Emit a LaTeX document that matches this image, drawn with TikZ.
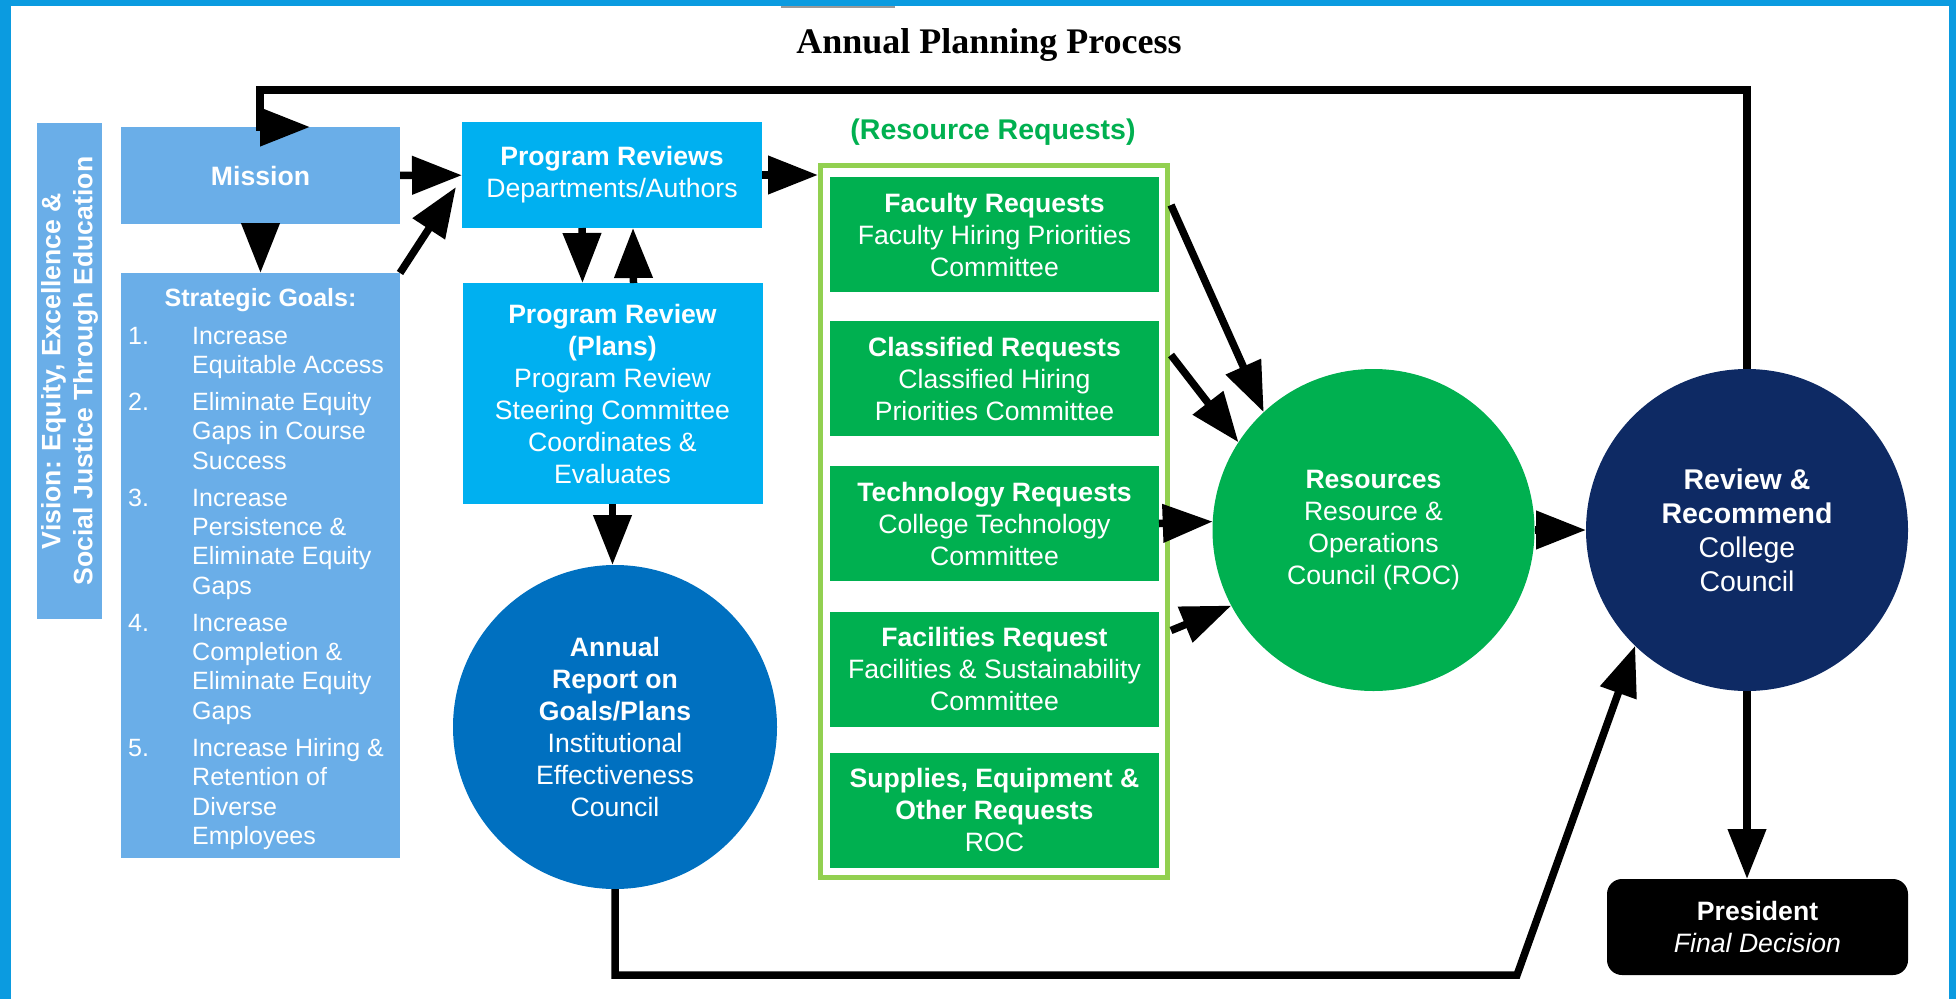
\documentclass[tikz,border=0pt]{standalone}
\usepackage{fontspec}
\setmainfont{Liberation Sans}
\newfontfamily\titlefont{Liberation Serif}
\usepackage{tikz}
\usetikzlibrary{positioning, arrows.meta, calc}

\definecolor{edgeblue}{RGB}{11,155,224}
\definecolor{paleblue}{RGB}{106,174,232}
\definecolor{progblue}{RGB}{0,176,240}
\definecolor{iecblue}{RGB}{0,112,192}
\definecolor{reqgreen}{RGB}{0,176,80}
\definecolor{framegreen}{RGB}{146,208,80}
\definecolor{ccnavy}{RGB}{14,42,100}

\begin{document}
\begin{tikzpicture}[x=1pt, y=-1pt,
    txt/.style={text=white, align=center, inner sep=0pt, outer sep=0pt, font=\fontsize{26.6}{32}\selectfont},
    pale/.style={txt, rectangle, fill=paleblue},
    progbox/.style={txt, rectangle, fill=progblue, minimum width=300pt},
    reqbox/.style={txt, rectangle, fill=reqgreen, minimum width=329pt, minimum height=115pt},
    bigcircle/.style={txt, circle, minimum size=322pt},
    arr/.style={line width=7.5pt, -{Triangle[length=50pt, width=37pt]}},
  ]
    \useasboundingbox (0,0) rectangle (1956,999);
    \fill[edgeblue] (0,0) rectangle (1956,6);
    \fill[edgeblue] (0,0) rectangle (11,999);
    \fill[edgeblue] (1949,0) rectangle (1956,999);
    \fill[gray!80] (781,6) rectangle (895,8);

    \node[anchor=base, font=\titlefont\bfseries\fontsize{36}{40}\selectfont] (title) at (989,53) {Annual Planning Process};

    % left column
    \node[pale, rotate=90, minimum width=496pt, minimum height=65pt] (vision) at (69.5,371) {\textbf{Vision: Equity, Excellence \&}\\\textbf{Social Justice Through Education}};
    \node[pale, minimum width=279pt, minimum height=97pt] (mission) at (260.5,175.5) {\textbf{Mission}};
    \node[pale, minimum width=279pt, minimum height=585pt] (goals) at (260.5,565.5) {};
    \node[text=white, font=\bfseries\fontsize{25}{29.4}\selectfont] (goalhead) at (260.5,300) {Strategic Goals:};
    \node[anchor=base west, text=white, inner sep=0pt, font=\fontsize{25}{29.4}\selectfont] (goallist) at (128,344)
      {\begin{tabular}[t]{@{}p{64pt}@{}l@{}}
        1. & Increase\\ & Equitable Access\\[7.5pt]
        2. & Eliminate Equity\\ & Gaps in Course\\ & Success\\[7.5pt]
        3. & Increase\\ & Persistence \&\\ & Eliminate Equity\\ & Gaps\\[7.5pt]
        4. & Increase\\ & Completion \&\\ & Eliminate Equity\\ & Gaps\\[7.5pt]
        5. & Increase Hiring \&\\ & Retention of\\ & Diverse\\ & Employees
      \end{tabular}};

    % program review column
    \node[progbox, minimum height=106pt] (prog) at (612,175) {\textbf{Program Reviews}\\Departments/Authors};
    \node[progbox, minimum height=221pt] (plans) at (612.5,393.5) {\textbf{Program Review}\\\textbf{(Plans)}\\Program Review\\Steering Committee\\Coordinates \&\\Evaluates};
    \node[bigcircle, fill=iecblue, minimum size=324pt] (annual) at (615,727) {\textbf{Annual}\\\textbf{Report on}\\\textbf{Goals/Plans}\\Institutional\\Effectiveness\\Council};

    % resource requests
    \node[font=\bfseries\fontsize{28.5}{32}\selectfont, text=reqgreen] (rlabel) at (993,132) {(Resource Requests)};
    \node[draw=framegreen, line width=5pt, minimum width=347pt, minimum height=712pt, inner sep=0pt, outer sep=2.5pt] (rframe) at (994,521.5) {};
    \node[reqbox] (fac) at (994.5,234.5) {\textbf{Faculty Requests}\\Faculty Hiring Priorities\\Committee};
    \node[reqbox] (cls) at (994.5,378.5) {\textbf{Classified Requests}\\Classified Hiring\\Priorities Committee};
    \node[reqbox] (tech) at (994.5,523.5) {\textbf{Technology Requests}\\College Technology\\Committee};
    \node[reqbox] (facil) at (994.5,669) {\textbf{Facilities Request}\\Facilities \& Sustainability\\Committee};
    \node[reqbox] (supp) at (994.5,810) {\textbf{Supplies, Equipment \&}\\\textbf{Other Requests}\\ROC};

    % councils
    \node[bigcircle, fill=reqgreen] (res) at (1373.5,530) {\textbf{Resources}\\Resource \&\\Operations\\Council (ROC)};
    \node[bigcircle, fill=ccnavy, font=\fontsize{28.5}{34}\selectfont] (review) at (1747,530) {\textbf{Review \&}\\\textbf{Recommend}\\College\\Council};
    \node[txt, rectangle, rounded corners=15pt, fill=black, minimum width=301pt, minimum height=96pt] (pres) at (1757.5,927) {\textbf{President}\\\textit{Final Decision}};

    \coordinate (topc) at (260,90);
    \coordinate (topd) at (260,127);
    \coordinate (topt) at (310,127);
    \coordinate (botc) at (1517,975);

    \draw[arr] (mission) -- (goals);
    \draw[arr] (mission) -- (prog);
    \draw[arr] (goals.north east) -- ($(prog.west)+(-6,12)$);
    \draw[arr] ($(prog.south)+(-30,0)$) -- ($(plans.north)+(-30,0)$);
    \draw[arr] ($(plans.north)+(21,0)$) -- ($(prog.south)+(21,0)$);
    \draw[arr] (plans.south) -- (plans.south |- annual.north);
    \draw[arr] (prog.east) -- (prog.east -| rframe.west);
    \draw[arr] ($(fac.north east)+(12,28)$) -- (res.133);
    \draw[arr] ($(cls.north east)+(12,34)$) -- (res.147);
    \draw[arr] (tech.east) -- (res.177);
    \draw[arr] ($(facil.north east)+(12,19)$) -- (res.208);
    \draw[arr] (res) -- (review);
    \draw[arr] (review.south) -- (review.south |- pres.north);
    \draw[arr] (annual.south) |- (botc) -- (review.226);
    \draw[arr] (review.north) |- (topc) -- (topd) -- (topt);
\end{tikzpicture}
\end{document}
